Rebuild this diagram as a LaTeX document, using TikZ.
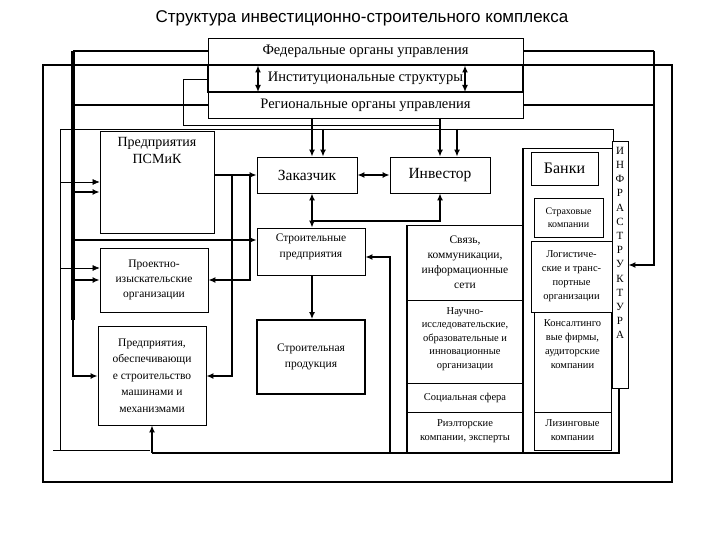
\documentclass[tikz,border=0pt]{standalone}
\usepackage{fontspec}
\setmainfont{Liberation Serif}
\newfontfamily\sansf{Liberation Sans}
\usetikzlibrary{arrows.meta}
\begin{document}
\begin{tikzpicture}[x=1pt,y=-1pt,
  box/.style={draw,line width=0.8pt,inner sep=1pt,align=center,font=\fontsize{14.5}{16}\selectfont},
  sbox/.style={box,font=\fontsize{11}{13}\selectfont},
  th/.style={line width=2pt},
  tn/.style={line width=0.6pt},
  ar/.style={-{Latex[length=7pt,width=6pt]}},
  dar/.style={{Latex[length=7pt,width=6pt]}-{Latex[length=7pt,width=6pt]}},
  tl/.style={anchor=north,align=center,font=\fontsize{10.5}{14}\selectfont,yshift=-4pt}]
\useasboundingbox (0,0) rectangle (720,540);
\node (title) at (362,18) {\sansf\fontsize{17}{19}\selectfont Структура инвестиционно-строительного комплекса};
% top boxes
\node[box,minimum width=315,minimum height=27] (fed) at (365.5,51.5) {Федеральные органы управления};
\node[box,line width=1.6pt,minimum width=315,minimum height=27] (inst) at (365.5,78.5) {Институциональные структуры};
\node[box,minimum width=315,minimum height=26] (reg) at (365.5,105) {Региональные органы управления};
% outer frame
\draw[th] (208,65) -- (43,65) -- (43,482) -- (672,482) -- (672,65) -- (523,65);
% thin inner frame
\draw[tn] (60,450) -- (60,129) -- (613,129) -- (613,141);
\draw[tn] (53,450) -- (150,450);
\draw[tn] (208,79) -- (183,79) -- (183,125) -- (440,125);
% left column
\node[box,minimum width=114,minimum height=102,label={[anchor=north,align=center,font=\fontsize{14}{17}\selectfont,yshift=-3pt]north:Предприятия\\ПСМиК}] (psmik) at (157,182) {};
\node[sbox,font=\fontsize{11.5}{15}\selectfont,minimum width=108,minimum height=64] (proekt) at (154,280) {Проектно-\\изыскательские\\организации};
\node[sbox,font=\fontsize{11.5}{16.5}\selectfont,minimum width=108,minimum height=99] (obesp) at (152,375.5) {Предприятия,\\обеспечивающи\\е строительство\\машинами и\\механизмами};
% centre
\node[box,font=\fontsize{15.5}{17}\selectfont,minimum width=100,minimum height=36] (zak) at (307,175) {Заказчик};
\node[box,font=\fontsize{15.5}{17}\selectfont,minimum width=100,minimum height=36] (inv) at (440,175) {Инвестор};
\node[sbox,minimum width=108,minimum height=47,label={[anchor=north,align=center,font=\fontsize{11.5}{16}\selectfont,yshift=-3pt]north:Строительные\\предприятия}] (strp) at (311,251.5) {};
\node[sbox,font=\fontsize{11.5}{16}\selectfont,line width=1.8pt,minimum width=108,minimum height=74] (prod) at (311,357) {Строительная\\продукция};
% middle column
\node[sbox,font=\fontsize{11.5}{15}\selectfont,minimum width=116,minimum height=75] (svyaz) at (465,262.5) {Связь,\\коммуникации,\\информационные\\сети};
\node[sbox,minimum width=116,minimum height=83,label={[tl,font=\fontsize{10.5}{13.5}\selectfont]north:Научно-\\исследовательские,\\образовательные и\\инновационные\\организации}] (nauch) at (465,341.5) {};
\node[sbox,font=\fontsize{10.5}{13}\selectfont,minimum width=116,minimum height=29] (soc) at (465,397.5) {Социальная сфера};
\node[sbox,minimum width=116,minimum height=41,label={[tl]north:Риэлторские\\компании, эксперты}] (riel) at (465,432.5) {};
% right column
\node[box,font=\fontsize{16}{17}\selectfont,minimum width=67,minimum height=33] (bank) at (564.5,168.5) {Банки};
\node[sbox,font=\fontsize{10}{13}\selectfont,minimum width=69,minimum height=39] (strah) at (568.5,217.5) {Страховые\\компании};
\node[sbox,font=\fontsize{10.5}{14}\selectfont,minimum width=81,minimum height=71] (log) at (571.5,276.5) {Логистиче-\\ские и транс-\\портные\\организации};
\node[sbox,minimum width=77,minimum height=100,label={[tl]north:Консалтинго\\вые фирмы,\\аудиторские\\компании}] (kons) at (572.5,362) {};
\node[sbox,minimum width=77,minimum height=38,label={[tl]north:Лизинговые\\компании}] (liz) at (572.5,431) {};
\node[box,minimum width=16,minimum height=247,label={[anchor=north,align=center,font=\fontsize{11}{14.2}\selectfont,yshift=-3pt]north:И\\Н\\Ф\\Р\\А\\С\\Т\\Р\\У\\К\\Т\\У\\Р\\А}] (infra) at (620,264.5) {};
\draw[line width=0.8pt] (523,148) -- (612,148);
\draw[th] (523,148) -- (523,453);
\draw[th] (infra.south -| 619,0) -- (619,453) -- (152,453) coordinate (bl);
\draw[th,ar] (bl) -- (obesp.south);
% left bus
\draw[th] (fed.west) -- (73,51.5);
\draw[th] (reg.west) -- (73,105);
\draw[line width=3.5pt] (73,51.5) -- (73,320);
\draw[th,ar] (73,51.5) -- (73,376) -- (obesp.west |- 0,376);
\draw[th,ar] (73,192) -- (psmik.west |- 0,192);
\draw[tn,ar] (60,182) -- (psmik.west |- 0,182);
\draw[th,ar] (73,240) -- (strp.west |- 0,240);
\draw[th,ar] (73,280) -- (proekt.west |- 0,280);
\draw[tn,ar] (60,268) -- (proekt.west |- 0,268);
% right bus
\draw[th] (fed.east) -- (654,51.5);
\draw[th] (reg.east) -- (654,105);
\draw[th,ar] (654,51.5) -- (654,265) -- (infra.east |- 0,265);
% top box arrows
\draw[th,dar] (258,65.5) -- (258,92);
\draw[th,dar] (465,65.5) -- (465,92);
\draw[th,ar] (312,118) -- (zak.north -| 312,0);
\draw[th,ar] (323,129) -- (zak.north -| 323,0);
\draw[th,ar] (440,118) -- (inv.north);
\draw[th,ar] (457,129) -- (inv.north -| 457,0);
% centre arrows
\draw[th,ar] (psmik.east |- 0,175) -- (zak.west);
\draw[th,ar] (232,175) -- (232,376) -- (obesp.east |- 0,376);
\draw[th,ar] (250,175) -- (250,280) -- (proekt.east |- 0,280);
\draw[th,dar] (zak.east) -- (inv.west);
\draw[th,dar] (zak.south -| 312,0) -- (strp.north -| 312,0);
\draw[th,ar] (312,221) -- (440,221) -- (inv.south);
\draw[th,ar] (390,453) -- (390,257) -- (strp.east |- 0,257);
\draw[th,ar] (strp.south -| 312,0) -- (prod.north -| 312,0);
\draw[th] (407,225) -- (407,453);
\end{tikzpicture}
\end{document}
